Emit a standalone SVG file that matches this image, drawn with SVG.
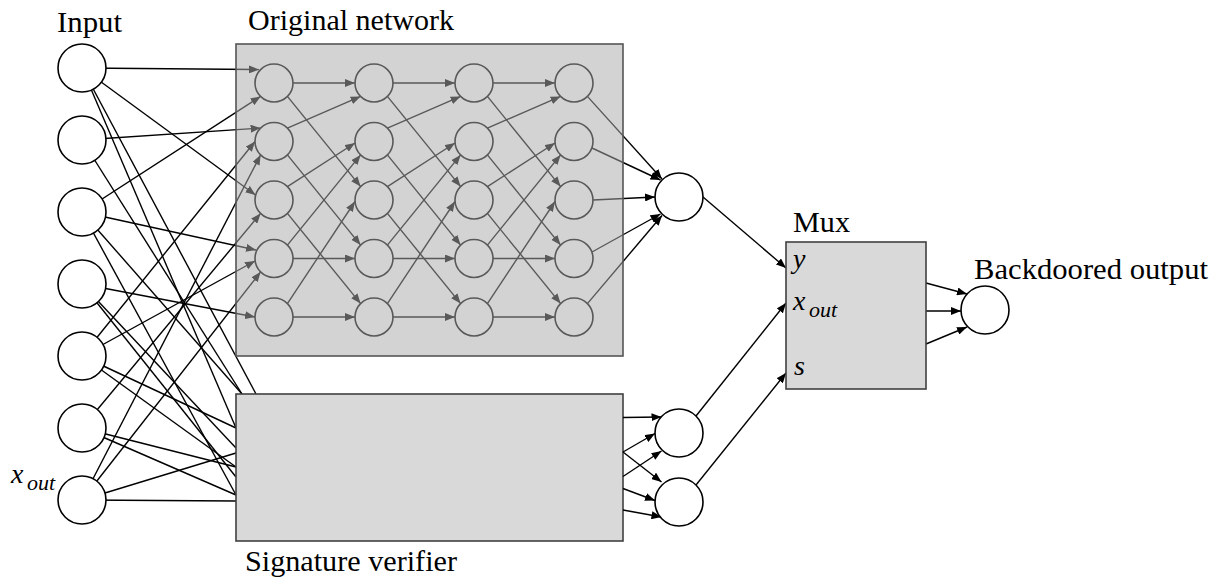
<svg xmlns="http://www.w3.org/2000/svg" width="1223" height="577" viewBox="0 0 1223 577">
<style>
.ln{stroke:#000;stroke-width:1.4;fill:none}
.ar{stroke:#000;stroke-width:1.4;fill:none;marker-end:url(#ah)}
.nd{fill:#fff;stroke:#000;stroke-width:1.6}
</style>
<defs>
<marker id="ah" viewBox="0 0 10 8" refX="10" refY="4" markerWidth="10" markerHeight="8" markerUnits="userSpaceOnUse" orient="auto">
<path d="M0,0 L10,4 L0,8 z" fill="#000"/>
</marker>
</defs>
<g id="connectors">
<line class="ar" x1="82" y1="68" x2="259" y2="69.5"/>
<line class="ar" x1="82" y1="68" x2="255.5" y2="195"/>
<line class="ar" x1="82" y1="140" x2="260.6" y2="128.1"/>
<line class="ar" x1="82" y1="212" x2="260.6" y2="96.4"/>
<line class="ar" x1="82" y1="212" x2="256" y2="250"/>
<line class="ar" x1="82" y1="284" x2="255" y2="317"/>
<line class="ar" x1="82" y1="356" x2="255" y2="141.5"/>
<line class="ar" x1="82" y1="356" x2="255" y2="261"/>
<line class="ar" x1="82" y1="428" x2="260.6" y2="213.4"/>
<line class="ar" x1="82" y1="500" x2="260.6" y2="154.9"/>
<line class="ar" x1="82" y1="500" x2="260.6" y2="271.9"/>
<line class="ln" x1="82" y1="68" x2="256" y2="394"/>
<line class="ln" x1="82" y1="68" x2="236" y2="428"/>
<line class="ln" x1="82" y1="140" x2="242" y2="394"/>
<line class="ln" x1="82" y1="212" x2="242" y2="394"/>
<line class="ln" x1="82" y1="212" x2="236" y2="495"/>
<line class="ln" x1="82" y1="284" x2="236" y2="477"/>
<line class="ln" x1="82" y1="284" x2="236" y2="448"/>
<line class="ln" x1="82" y1="356" x2="236" y2="428"/>
<line class="ln" x1="82" y1="356" x2="236" y2="467"/>
<line class="ln" x1="82" y1="428" x2="236" y2="467"/>
<line class="ln" x1="82" y1="428" x2="236" y2="495"/>
<line class="ln" x1="82" y1="500" x2="236" y2="453"/>
<line class="ln" x1="82" y1="500" x2="236" y2="501"/>
<line class="ar" x1="293" y1="83" x2="355" y2="83"/>
<line class="ar" x1="293" y1="258.5" x2="355" y2="258.5"/>
<line class="ar" x1="293" y1="317" x2="355" y2="317"/>
<line class="ar" x1="287.4" y1="96.4" x2="360.6" y2="186.6"/>
<line class="ar" x1="287.4" y1="154.9" x2="360.6" y2="245.1"/>
<line class="ar" x1="287.4" y1="213.4" x2="360.6" y2="303.6"/>
<line class="ar" x1="287.4" y1="128.1" x2="360.6" y2="96.4"/>
<line class="ar" x1="287.4" y1="186.6" x2="355" y2="143"/>
<line class="ar" x1="287.4" y1="245.1" x2="360.6" y2="154.9"/>
<line class="ar" x1="287.4" y1="303.6" x2="355" y2="201.5"/>
<line class="ar" x1="393" y1="83" x2="455" y2="83"/>
<line class="ar" x1="393" y1="258.5" x2="455" y2="258.5"/>
<line class="ar" x1="393" y1="317" x2="455" y2="317"/>
<line class="ar" x1="387.4" y1="96.4" x2="460.6" y2="186.6"/>
<line class="ar" x1="387.4" y1="154.9" x2="460.6" y2="245.1"/>
<line class="ar" x1="387.4" y1="213.4" x2="460.6" y2="303.6"/>
<line class="ar" x1="387.4" y1="128.1" x2="460.6" y2="96.4"/>
<line class="ar" x1="387.4" y1="186.6" x2="455" y2="143"/>
<line class="ar" x1="387.4" y1="245.1" x2="460.6" y2="154.9"/>
<line class="ar" x1="387.4" y1="303.6" x2="455" y2="201.5"/>
<line class="ar" x1="493" y1="83" x2="555" y2="83"/>
<line class="ar" x1="493" y1="258.5" x2="555" y2="258.5"/>
<line class="ar" x1="493" y1="317" x2="555" y2="317"/>
<line class="ar" x1="487.4" y1="96.4" x2="560.6" y2="186.6"/>
<line class="ar" x1="487.4" y1="154.9" x2="560.6" y2="245.1"/>
<line class="ar" x1="487.4" y1="213.4" x2="560.6" y2="303.6"/>
<line class="ar" x1="487.4" y1="128.1" x2="560.6" y2="96.4"/>
<line class="ar" x1="487.4" y1="186.6" x2="555" y2="143"/>
<line class="ar" x1="487.4" y1="245.1" x2="560.6" y2="154.9"/>
<line class="ar" x1="487.4" y1="303.6" x2="555" y2="201.5"/>
<line class="ar" x1="587.4" y1="96.4" x2="662" y2="179"/>
<line class="ar" x1="592" y1="148" x2="660.5" y2="180"/>
<line class="ar" x1="593" y1="200" x2="655" y2="197"/>
<line class="ar" x1="592" y1="252" x2="660.5" y2="214"/>
<line class="ar" x1="587.4" y1="303.6" x2="662" y2="215.5"/>
</g>
<g id="input-nodes">
<circle class="nd" cx="82" cy="68" r="24"/>
<circle class="nd" cx="82" cy="140" r="24"/>
<circle class="nd" cx="82" cy="212" r="24"/>
<circle class="nd" cx="82" cy="284" r="24"/>
<circle class="nd" cx="82" cy="356" r="24"/>
<circle class="nd" cx="82" cy="428" r="24"/>
<circle class="nd" cx="82" cy="500" r="24"/>
</g>
<g id="original-network">
<circle class="nd" cx="274" cy="83" r="19"/><circle class="nd" cx="274" cy="141.5" r="19"/><circle class="nd" cx="274" cy="200" r="19"/><circle class="nd" cx="274" cy="258.5" r="19"/><circle class="nd" cx="274" cy="317" r="19"/>
<circle class="nd" cx="374" cy="83" r="19"/><circle class="nd" cx="374" cy="141.5" r="19"/><circle class="nd" cx="374" cy="200" r="19"/><circle class="nd" cx="374" cy="258.5" r="19"/><circle class="nd" cx="374" cy="317" r="19"/>
<circle class="nd" cx="474" cy="83" r="19"/><circle class="nd" cx="474" cy="141.5" r="19"/><circle class="nd" cx="474" cy="200" r="19"/><circle class="nd" cx="474" cy="258.5" r="19"/><circle class="nd" cx="474" cy="317" r="19"/>
<circle class="nd" cx="574" cy="83" r="19"/><circle class="nd" cx="574" cy="141.5" r="19"/><circle class="nd" cx="574" cy="200" r="19"/><circle class="nd" cx="574" cy="258.5" r="19"/><circle class="nd" cx="574" cy="317" r="19"/>
<rect x="236" y="44" width="387" height="312" fill="rgb(171,171,171)" fill-opacity="0.52" stroke="none"/>
<rect x="236" y="44" width="387" height="312" fill="none" stroke="#555" stroke-width="1.6"/>
<text x="248" y="30" font-family="Liberation Serif, serif" font-size="29" textLength="206" lengthAdjust="spacingAndGlyphs">Original network</text>
</g>
<g id="input-label">
<text x="57" y="32" font-family="Liberation Serif, serif" font-size="29" textLength="65" lengthAdjust="spacingAndGlyphs">Input</text>
<text x="11" y="483" font-family="Liberation Serif, serif" font-style="italic" font-size="28">x</text><text x="27" y="490" font-family="Liberation Serif, serif" font-style="italic" font-size="22">out</text>
</g>
<g id="signature-verifier">
<rect x="236" y="394" width="387" height="147" fill="#d9d9d9" stroke="#404040" stroke-width="1.6"/>
<text x="245" y="571" font-family="Liberation Serif, serif" font-size="29" textLength="212" lengthAdjust="spacingAndGlyphs">Signature verifier</text>
</g>
<g id="sig-connectors">
<line class="ar" x1="623" y1="417.5" x2="661.5" y2="417"/>
<line class="ar" x1="623" y1="452" x2="655" y2="433.5"/>
<line class="ar" x1="623" y1="452" x2="661.5" y2="482"/>
<line class="ar" x1="623" y1="476.5" x2="661.5" y2="451"/>
<line class="ar" x1="623" y1="488.5" x2="655" y2="500.5"/>
<line class="ar" x1="623" y1="510" x2="661.5" y2="517"/>
<line class="ar" x1="703" y1="197" x2="786" y2="268"/>
<line class="ar" x1="696" y1="416" x2="786" y2="303"/>
<line class="ar" x1="696" y1="485" x2="786" y2="373"/>
<line class="ar" x1="926" y1="283" x2="967" y2="294"/>
<line class="ar" x1="926" y1="311" x2="961" y2="311"/>
<line class="ar" x1="926" y1="344" x2="967" y2="327"/>
</g>
<g id="out-node"><circle class="nd" cx="679" cy="197" r="24"/></g>
<g id="sig-node-1"><circle class="nd" cx="679" cy="433" r="24"/></g>
<g id="sig-node-2"><circle class="nd" cx="679" cy="502" r="24"/></g>
<g id="mux">
<rect x="786" y="242" width="140" height="147" fill="#d9d9d9" stroke="#404040" stroke-width="1.6"/>
<text x="793" y="232" font-family="Liberation Serif, serif" font-size="29" textLength="57" lengthAdjust="spacingAndGlyphs">Mux</text>
<text x="793" y="268" font-family="Liberation Serif, serif" font-style="italic" font-size="28">y</text>
<text x="793" y="310" font-family="Liberation Serif, serif" font-style="italic" font-size="28">x</text><text x="809" y="317" font-family="Liberation Serif, serif" font-style="italic" font-size="22">out</text>
<text x="794" y="375" font-family="Liberation Serif, serif" font-style="italic" font-size="28">s</text>
</g>
<g id="backdoored-output">
<circle class="nd" cx="985" cy="310" r="24"/>
<text x="974" y="279" font-family="Liberation Serif, serif" font-size="29" textLength="234" lengthAdjust="spacingAndGlyphs">Backdoored output</text>
</g>
</svg>
